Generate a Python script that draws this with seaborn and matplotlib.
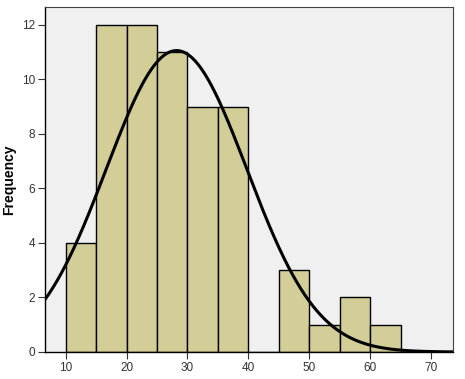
import numpy as np
import pandas as pd
import seaborn as sns
import matplotlib
matplotlib.use("Agg")
import matplotlib.pyplot as plt

bin_edges = [10, 15, 20, 25, 30, 35, 40, 45, 50, 55, 60, 65]
counts = [4, 12, 12, 11, 9, 9, 0, 3, 1, 2, 1]
fit_mean = 28.2
fit_sd = 11.55
n_total = sum(counts)
bin_width = 5

sns.set_theme(style="white")
plt.rcParams['font.family'] = ['Arial', 'Liberation Sans', 'DejaVu Sans']

fig = plt.figure(figsize=(4.65, 3.79), dpi=100)
ax = fig.add_axes([45/465, 27/379, 408/465, 345/379])
ax.set_facecolor("#F0F0F0")

centers = [(a + b) / 2 for a, b in zip(bin_edges[:-1], bin_edges[1:])]
df = pd.DataFrame({"x": centers, "w": counts})
sns.histplot(data=df, x="x", weights="w", bins=bin_edges, ax=ax,
             color="#D3CE97", edgecolor="black", linewidth=1.0, alpha=1.0)

xs = np.linspace(6.6, 73.6, 400)
ys = n_total * bin_width / (fit_sd * np.sqrt(2 * np.pi)) * np.exp(-(xs - fit_mean) ** 2 / (2 * fit_sd ** 2))
sns.lineplot(x=xs, y=ys, ax=ax, color="black", linewidth=2.2)

ax.set_xlim(6.6, 73.6)
ax.set_ylim(0, 12.65)
ax.set_xticks([10, 20, 30, 40, 50, 60, 70])
ax.set_yticks([0, 2, 4, 6, 8, 10, 12])
ax.tick_params(axis="both", direction="out", length=5, width=0.8, color="#333333",
               labelsize=8.5, labelcolor="#333333", bottom=True, left=True, pad=2)
ax.set_xlabel("")
ax.set_ylabel("Frequency", fontsize=10, fontweight="bold", color="black")
ax.yaxis.set_label_coords(-0.071, 0.5)
for s in ["left", "bottom"]:
    ax.spines[s].set_color("black")
    ax.spines[s].set_linewidth(1.0)
for s in ["top", "right"]:
    ax.spines[s].set_color("#444444")
    ax.spines[s].set_linewidth(0.8)

fig.savefig("out.png", dpi=100)
